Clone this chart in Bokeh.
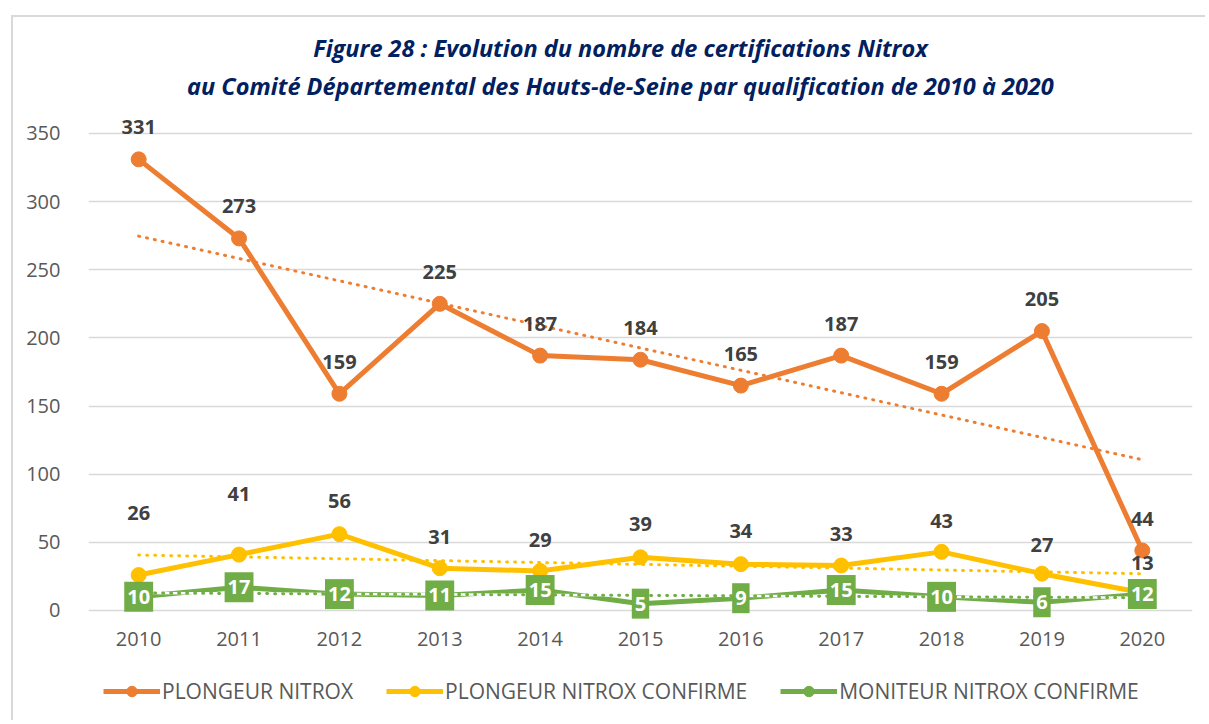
from bokeh.plotting import figure
from bokeh.models import ColumnDataSource, Label, Legend, LegendItem, FixedTicker, Range1d
from bokeh.core.properties import value
from bokeh.embed import file_html
from bokeh.resources import INLINE
import numpy as np

years = [2010, 2011, 2012, 2013, 2014, 2015, 2016, 2017, 2018, 2019, 2020]
plongeur = [331, 273, 159, 225, 187, 184, 165, 187, 159, 205, 44]
plongeur_confirme = [26, 41, 56, 31, 29, 39, 34, 33, 43, 27, 13]
moniteur_confirme = [10, 17, 12, 11, 15, 5, 9, 15, 10, 6, 12]
series_names = ["PLONGEUR NITROX", "PLONGEUR NITROX CONFIRME", "MONITEUR NITROX CONFIRME"]
y_ticks = [0, 50, 100, 150, 200, 250, 300, 350]
title_lines = ["Figure 28 : Evolution du nombre de certifications Nitrox",
               "au Comité Départemental des Hauts-de-Seine par qualification de 2010 à 2020"]

ORANGE = "#ED7D31"
YELLOW = "#FFC000"
GREEN = "#70AD47"
FONT = "Open Sans"

# the frame covers the title and legend areas too, so nothing there is clipped;
# the x axis is pinned at y = 0
p = figure(width=1194, height=705, output_backend="svg", toolbar_location=None,
           x_range=Range1d(2009.5, 2020.5), y_range=Range1d(-82.2, 435.1),
           min_border_left=75, min_border_right=15, min_border_top=0, min_border_bottom=0)
p.outline_line_color = None
p.styles = {"margin-left": "11px", "margin-top": "15px",
            "border-left": "2px solid #d9d9d9", "border-top": "2px solid #d9d9d9"}

p.xgrid.grid_line_color = None
p.ygrid.grid_line_color = "#d9d9d9"
p.ygrid.grid_line_width = 1.5
p.yaxis.ticker = FixedTicker(ticks=y_ticks)
p.xaxis.ticker = FixedTicker(ticks=years)
p.xaxis.fixed_location = 0
for ax in (p.xaxis, p.yaxis):
    ax.major_tick_line_color = None
    ax.minor_tick_line_color = None
    ax.major_label_text_color = "#595959"
    ax.major_label_text_font = FONT
    ax.major_label_text_font_size = "20px"
    ax.axis_line_color = None  # the zero grid line serves as the x axis line
p.xaxis.major_label_standoff = 16
p.yaxis.major_label_standoff = 22

x = np.array(years, dtype=float)

def trend(vals):
    k, b = np.polyfit(x, np.array(vals, dtype=float), 1)
    return [k * x[0] + b, k * x[-1] + b]

tx = [years[0], years[-1]]
DOT = dict(line_width=3, line_dash="1 7", line_cap="round")
p.line(tx, trend(plongeur), line_color=ORANGE, **DOT)

src_o = ColumnDataSource(dict(x=years, y=plongeur, t=[str(v) for v in plongeur]))
src_y = ColumnDataSource(dict(x=years, y=plongeur_confirme, t=[str(v) for v in plongeur_confirme],
                              dy=[-62, -61, -33, -31, -31, -33, -33, -32, -31, -29, -30]))
src_g = ColumnDataSource(dict(x=years, y=moniteur_confirme, t=[str(v) for v in moniteur_confirme]))

r_o_line = p.line("x", "y", source=src_o, line_color=ORANGE, line_width=5)
r_o_pt = p.scatter("x", "y", source=src_o, size=15, color=ORANGE)

p.line(tx, trend(plongeur_confirme), line_color=YELLOW, **DOT)
r_y_line = p.line("x", "y", source=src_y, line_color=YELLOW, line_width=5)
r_y_pt = p.scatter("x", "y", source=src_y, size=15, color=YELLOW)

r_g_line = p.line("x", "y", source=src_g, line_color=GREEN, line_width=5)
r_g_pt = p.scatter("x", "y", source=src_g, size=15, color=GREEN)
p.line(tx, trend(moniteur_confirme), line_color="white", line_width=2.5)
p.line(tx, trend(moniteur_confirme), line_color=GREEN, **DOT)

LBL = dict(text_font=value(FONT), text_font_style="bold", text_font_size="20px",
           text_align="center", text_baseline="middle")
p.text("x", "y", text="t", source=src_o, text_color="#404040", y_offset=-32, **LBL)
p.text("x", "y", text="t", source=src_y, text_color="#404040", y_offset="dy", **LBL)
p.text("x", "y", text="t", source=src_g, text_color="white",
       background_fill_color=GREEN, padding=(3, 8), **LBL)

for i, line in enumerate(title_lines):
    p.add_layout(Label(x=2014.8, y=413 - i * 28, text=line, text_align="center",
                       text_baseline="middle", text_font=FONT, text_font_style="bold italic",
                       text_font_size="23.5px", text_color="#002060"))

legend = Legend(items=[LegendItem(label=series_names[0], renderers=[r_o_line, r_o_pt]),
                       LegendItem(label=series_names[1], renderers=[r_y_line, r_y_pt]),
                       LegendItem(label=series_names[2], renderers=[r_g_line, r_g_pt])],
                orientation="horizontal", location=(15, 17), padding=0, margin=0,
                glyph_width=57, glyph_height=26, label_height=26, label_standoff=2, spacing=33,
                label_text_font=FONT, label_text_font_size="21px", label_text_color="#595959",
                border_line_color=None, background_fill_alpha=0)
p.add_layout(legend)

open("out.html", "w").write(file_html(p, INLINE))
